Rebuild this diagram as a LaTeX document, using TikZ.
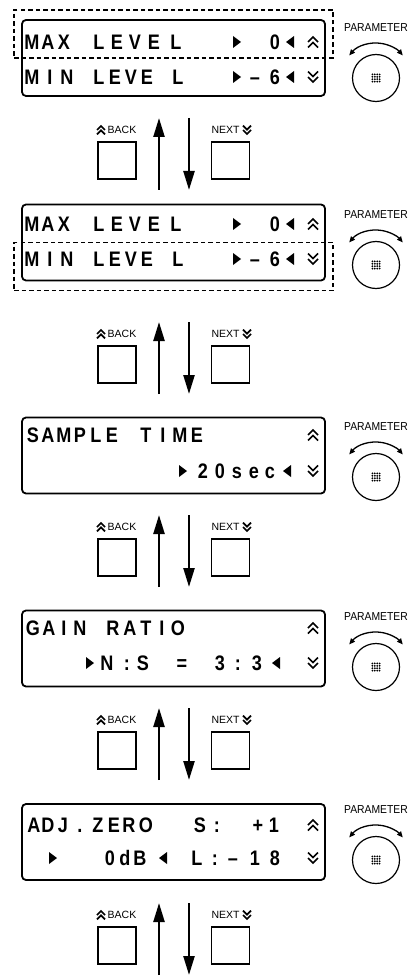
\documentclass[tikz,border=0pt]{standalone}
\usepackage{fontspec}
\setmainfont{Liberation Sans}
\newfontfamily\lcdfont[FakeStretch=0.86]{Liberation Sans}
\newfontfamily\labfont[FakeStretch=0.9]{Liberation Sans}
\usetikzlibrary{arrows.meta,positioning}

\newcommand\dblup[2][]{\draw[chev,shift={(#2)},#1] (-5,0) -- (0,-5) -- (5,0) (-5,5.5) -- (0,0.5) -- (5,5.5);}
\newcommand\dbldown[2][]{\draw[chev,shift={(#2)},#1] (-5,-5.5) -- (0,-0.5) -- (5,-5.5) (-5,0) -- (0,5) -- (5,0);}
\newcommand\trir[1]{\fill[shift={(#1)}] (-4,-6) -- (-4,6) -- (4,0) -- cycle;}
\newcommand\tril[1]{\fill[shift={(#1)}] (4,-6) -- (4,6) -- (-4,0) -- cycle;}

\begin{document}
\begin{tikzpicture}[x=1pt,y=-1pt,
  lcd/.style={draw,rounded corners=4pt,line width=1.8pt,minimum width=303pt,
    minimum height=76pt,inner sep=0pt},
  sel/.style={draw,dash pattern=on 4.5pt off 3pt,line width=1.3pt,minimum width=319pt,
    minimum height=48pt,inner sep=0pt},
  ch/.style={font=\lcdfont\bfseries\fontsize{21}{21}\selectfont,inner sep=0pt,anchor=base},
  chev/.style={line width=1.7pt,line join=miter},
  knob/.style={circle,draw,line width=1.2pt,minimum size=47pt,inner sep=0pt},
  plabel/.style={font=\labfont\fontsize{11.5}{11.5}\selectfont,inner sep=0pt},
  turnarc/.style={line width=1.3pt,{Triangle[length=6pt,width=5pt]}-{Triangle[length=6pt,width=5pt]}},
  btn/.style={draw,line width=1.3pt,minimum width=38pt,minimum height=37pt,inner sep=0pt},
  blabel/.style={font=\fontsize{10.5}{10.5}\selectfont,inner sep=0pt},
  nav/.style={line width=2.3pt,-{Triangle[length=19pt,width=11pt]}}
]
\useasboundingbox (0,0) rectangle (418,976);

\node[lcd] (scr1) at (173.5,58) {};
\node[lcd] (scr2) at (173.5,242.5) {};
\node[lcd] (scr3) at (173.5,455.5) {};
\node[lcd] (scr4) at (173.5,648.5) {};
\node[lcd] (scr5) at (173.5,842) {};
\node[sel] (sel1) at (173.5,34) {};
\node[sel] (sel2) at (173.5,266.5) {};

\foreach \s/\b/\d in {1/49.5/84.5,2/231.5/266.5} {
  \foreach \x/\c [count=\i] in {32/M,48/A,64/X,99/L,117/E,135/V,154/E,176/L,275/0}
    \node[ch] (r\s a\i) at (\x,\b) {\c};
  \foreach \x/\c [count=\i] in {32/M,50/I,67/N,99/L,115/E,131/V,147/E,178/L,255/–,275/6}
    \node[ch] (r\s b\i) at (\x,\d) {\c};
  \trir{237,\b-7.5} \tril{290,\b-7.5} \dblup{313,\b-7.5}
  \trir{237,\d-7.5} \tril{290,\d-7.5} \dbldown{313,\d-7.5}
}

\foreach \x/\c [count=\i] in {33/S,48/A,64/M,80/P,96/L,112/E,146/T,163/I,180/M,197/E}
  \node[ch] (r3a\i) at (\x,442.5) {\c};
\foreach \x/\c [count=\i] in {203/2,220/0,237/s,254/e,270/c}
  \node[ch] (r3b\i) at (\x,478.5) {\c};
\dblup{313,435} \trir{183,471} \tril{287,471} \dbldown{313,471}

\foreach \x/\c [count=\i] in {33/G,49/A,64/I,80/N,113/R,130/A,146/T,162/I,178/O}
  \node[ch] (r4a\i) at (\x,635.5) {\c};
\foreach \x/\c [count=\i] in {107/N,127/:,143/S,182/=,220/3,238/:,257/3}
  \node[ch] (r4b\i) at (\x,670.5) {\c};
\dblup{313,628} \trir{90,663} \tril{276,663} \dbldown{313,663}

\foreach \x/\c [count=\i] in {34/A,48/D,63/J,80/.,98/Z,114/E,129/R,146/O,200/S,217/:,258/+,274/1}
  \node[ch] (r5a\i) at (\x,832.5) {\c};
\foreach \x/\c [count=\i] in {110/0,125/d,140/B,197/L,215/:,233/–,255/1,275/8}
  \node[ch] (r5b\i) at (\x,865.5) {\c};
\dblup{313,825} \trir{53,858} \tril{163,858} \dbldown{313,858}

\foreach \k/\y in {1/78,2/265,3/477,4/667,5/860} {
  \node[knob] (knob\k) at (376,\y) {};
  \node[plabel,above=22pt of knob\k] (par\k) {PARAMETER};
  \draw[turnarc] (knob\k.center) ++(220:35) arc[start angle=220,end angle=320,radius=35];
  \foreach \i in {0,...,3} \foreach \j in {0,...,3}
    \fill (372.4+2.4*\i,\y-3.6+2.4*\j) circle (1.0);
}

\foreach \g [count=\k] in {118,322,515,708,903} {
  \node[btn] (back\k) at (117,\g+42.5) {};
  \node[btn] (next\k) at (230.5,\g+42.5) {};
  \node[blabel] (bl\k) at (122,\g+12) {BACK};
  \node[blabel] (nl\k) at (225.5,\g+12) {NEXT};
  \dblup[scale=0.8]{101,\g+12}
  \dbldown[scale=0.8]{247,\g+12}
  \coordinate (ua\k) at (159,\g+72);
  \coordinate (ub\k) at (159,\g);
  \coordinate (da\k) at (189,\g);
  \coordinate (db\k) at (189,\g+72);
  \draw[nav] (ua\k) -- (ub\k);
  \draw[nav] (da\k) -- (db\k);
}
\end{tikzpicture}
\end{document}
